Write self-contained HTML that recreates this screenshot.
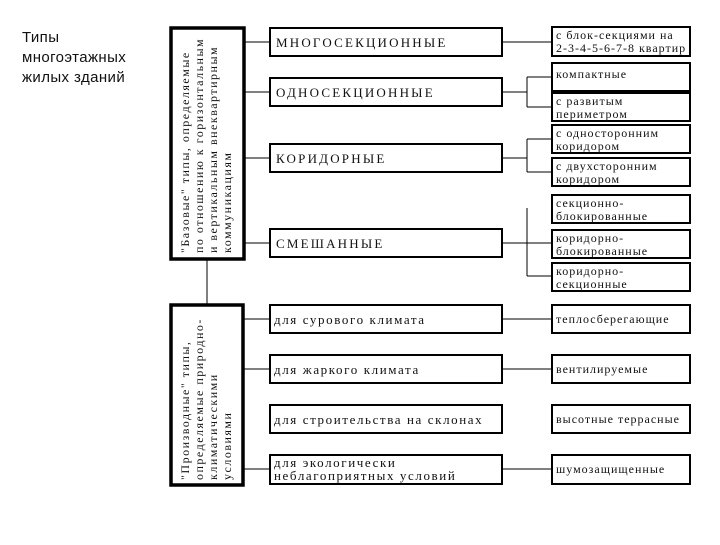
<!DOCTYPE html>
<html><head><meta charset="utf-8"><style>
body{margin:0;background:#fff;width:720px;height:540px;overflow:hidden}
svg text{font-family:"Liberation Serif","DejaVu Serif",serif;fill:#111}
</style></head><body>
<svg width="720" height="540" xmlns="http://www.w3.org/2000/svg">
<g font-size="15" letter-spacing="0.4">
<text x="22" y="42" style="font-family:'Liberation Sans',sans-serif">Типы</text>
<text x="22" y="62" style="font-family:'Liberation Sans',sans-serif">многоэтажных</text>
<text x="22" y="82" style="font-family:'Liberation Sans',sans-serif">жилых зданий</text>
</g>
<g fill="#fff" stroke="#000">
<rect x="171" y="28" width="73" height="231" stroke-width="3.5"/>
<rect x="171" y="305" width="72" height="180" stroke-width="3.5"/>
<g stroke-width="2">
<rect x="270" y="28" width="232" height="28"/>
<rect x="270" y="78" width="232" height="28"/>
<rect x="270" y="144" width="232" height="28"/>
<rect x="270" y="229" width="232" height="28"/>
<rect x="270" y="305" width="232" height="28"/>
<rect x="270" y="355" width="232" height="28"/>
<rect x="270" y="405" width="232" height="28"/>
<rect x="270" y="455" width="232" height="29"/>
<rect x="552" y="27" width="138" height="29"/>
<rect x="552" y="63" width="138" height="28"/>
<rect x="552" y="93" width="138" height="28"/>
<rect x="552" y="125" width="138" height="28"/>
<rect x="552" y="158" width="138" height="28"/>
<rect x="552" y="195" width="138" height="28"/>
<rect x="552" y="230" width="138" height="28"/>
<rect x="552" y="263" width="138" height="28"/>
<rect x="552" y="305" width="138" height="28"/>
<rect x="552" y="355" width="138" height="28"/>
<rect x="552" y="405" width="138" height="28"/>
<rect x="552" y="455" width="138" height="29"/>
</g></g>
<g stroke="#000" stroke-width="1" fill="none">
<path d="M244 42H270M244 92H270M244 158H270M244 243H270M207 259V305"/>
<path d="M243 319H270M243 369H270M243 469H270"/>
<path d="M502 42H552M502 319H552M502 369H552M502 469H552"/>
<path d="M502 92H527M527 77V107M527 77H552M527 107H552"/>
<path d="M502 158H527M527 139V172M527 139H552M527 172H552"/>
<path d="M502 243H527M527 208V276M527 243H552M527 276H552"/>
</g>
<g font-size="13" letter-spacing="2.2">
<text x="276" y="47">МНОГОСЕКЦИОННЫЕ</text>
<text x="276" y="97">ОДНОСЕКЦИОННЫЕ</text>
<text x="276" y="163">КОРИДОРНЫЕ</text>
<text x="276" y="248">СМЕШАННЫЕ</text>
</g>
<g font-size="13" letter-spacing="1.6">
<text x="274" y="324">для сурового климата</text>
<text x="274" y="374">для жаркого климата</text>
<text x="274" y="424">для строительства на склонах</text>
<text x="274" y="467">для экологически</text>
<text x="274" y="480">неблагоприятных условий</text>
</g>
<g font-size="12" letter-spacing="1.0">
<text x="556" y="39">с блок-секциями на</text>
<text x="556" y="52">2-3-4-5-6-7-8 квартир</text>
<text x="556" y="78">компактные</text>
<text x="556" y="105">с развитым</text>
<text x="556" y="118">периметром</text>
<text x="556" y="137">с односторонним</text>
<text x="556" y="150">коридором</text>
<text x="556" y="170">с двухсторонним</text>
<text x="556" y="183">коридором</text>
<text x="556" y="207">секционно-</text>
<text x="556" y="220">блокированные</text>
<text x="556" y="242">коридорно-</text>
<text x="556" y="255">блокированные</text>
<text x="556" y="275">коридорно-</text>
<text x="556" y="288">секционные</text>
<text x="556" y="323">теплосберегающие</text>
<text x="556" y="373">вентилируемые</text>
<text x="556" y="423">высотные террасные</text>
<text x="556" y="473">шумозащищенные</text>
</g>
<g font-size="12" letter-spacing="1.5">
<g transform="translate(0,253) rotate(-90)">
<text x="0" y="189">"Базовые" типы, определяемые</text>
<text x="0" y="203">по отношению к горизонтальным</text>
<text x="0" y="217">и вертикальным внеквартирным</text>
<text x="0" y="231">коммуникациям</text>
</g>
<g transform="translate(0,480) rotate(-90)">
<text x="0" y="189">"Производные" типы,</text>
<text x="0" y="203">определяемые природно-</text>
<text x="0" y="217">климатическими</text>
<text x="0" y="231">условиями</text>
</g>
</g>
</svg>
</body></html>
